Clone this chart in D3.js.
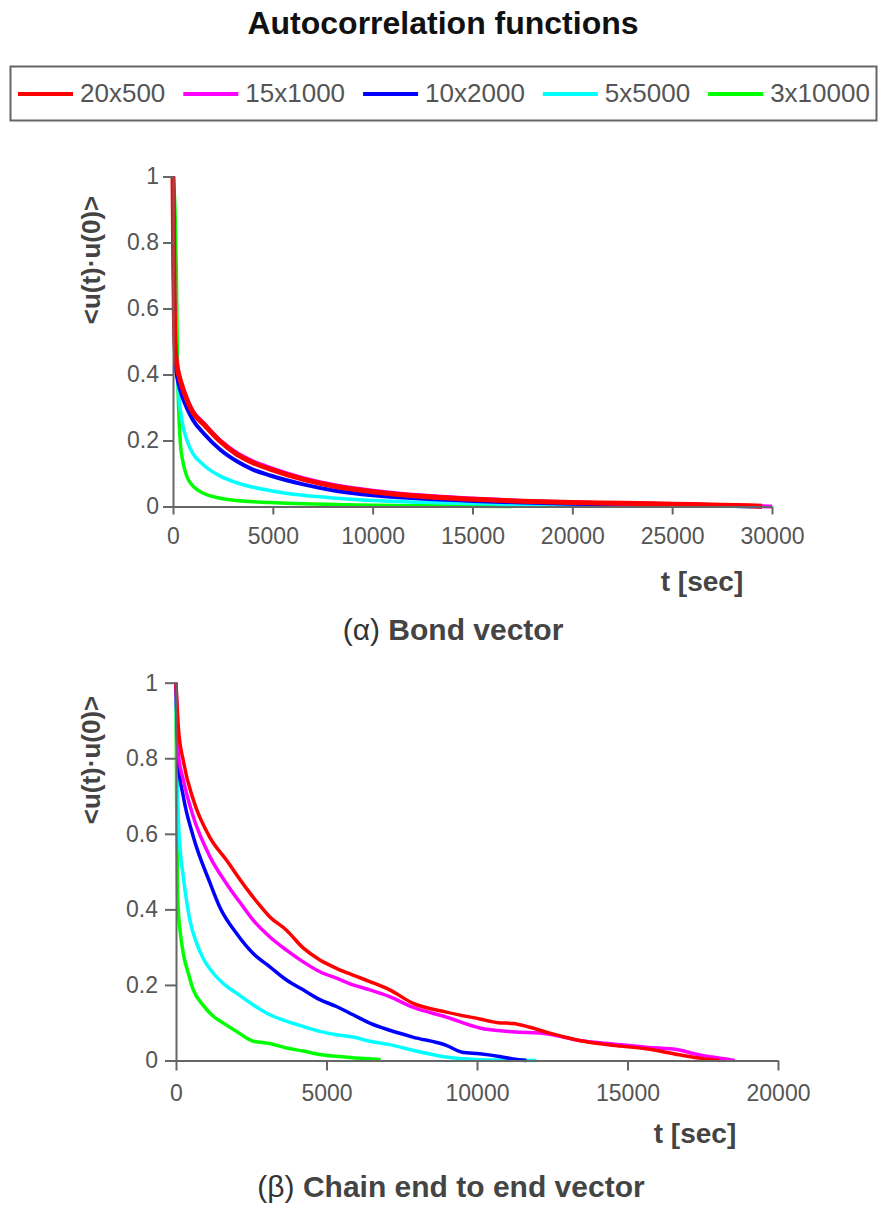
<!DOCTYPE html>
<html><head><meta charset="utf-8">
<script src="https://cdn.jsdelivr.net/npm/d3@7"></script>
<style>body{margin:0;background:#fff} svg text{font-family:"Liberation Sans",Arial,sans-serif}</style>
</head><body><svg id="c" width="881" height="1207"></svg>
<script>
// ---- data ----
const seriesNames = ["20x500","15x1000","10x2000","5x5000","3x10000"];
const seriesColors = ["#ff0000","#ff00ff","#0000ff","#00ffff","#00ff00"];
const yTicks = [0,0.2,0.4,0.6,0.8,1];
const xTicksBond = [0,5000,10000,15000,20000,25000,30000];
const xTicksChain = [0,5000,10000,15000,20000];

// (α) Bond vector  [t, value]
const bond_20x500 = [[0,1],[30,0.8],[60,0.62],[100,0.5],[150,0.45],[250,0.41],[400,0.375],[700,0.323],[1000,0.285],[1530,0.25],[2370,0.197],[3200,0.158],[4000,0.133],[4870,0.113],[6530,0.082],[8200,0.06],[10000,0.045],[12370,0.031],[15000,0.022],[17500,0.016],[20000,0.012],[22500,0.01],[25000,0.007],[27500,0.004],[29500,0.001]];
const bond_15x1000 = [[0,1],[30,0.8],[60,0.62],[100,0.5],[150,0.45],[250,0.41],[400,0.376],[700,0.325],[1000,0.288],[1530,0.253],[2370,0.2],[3200,0.162],[4000,0.137],[4870,0.117],[6530,0.086],[8200,0.064],[10000,0.048],[12370,0.034],[15000,0.024],[17500,0.017],[20000,0.012],[22500,0.009],[25000,0.007],[27500,0.004],[30000,0]];
const bond_10x2000 = [[0,1],[30,0.78],[60,0.6],[100,0.47],[150,0.42],[250,0.38],[400,0.345],[700,0.298],[1000,0.262],[1530,0.222],[2370,0.172],[3200,0.137],[4000,0.112],[4870,0.094],[6530,0.067],[8200,0.047],[10000,0.034],[12370,0.024],[15000,0.017],[17500,0.012],[20000,0.008],[22500,0.006],[25000,0.004],[27500,0.002],[29500,0]];
const bond_5x5000 = [[0,1],[50,0.75],[100,0.6],[200,0.42],[300,0.33],[450,0.26],[700,0.2],[1000,0.16],[1530,0.126],[2370,0.092],[3200,0.072],[4870,0.048],[6530,0.034],[8200,0.025],[10000,0.018],[12370,0.013],[15000,0.009],[17500,0.006],[20000,0.004],[22500,0.003],[25000,0.002],[27500,0.001],[29000,0]];
const bond_3x10000 = [[0,1],[100,0.9],[170,0.7],[220,0.45],[280,0.3],[370,0.19],[500,0.135],[700,0.09],[1030,0.06],[1530,0.04],[2370,0.025],[3200,0.018],[4870,0.012],[6530,0.008],[8200,0.006],[10000,0.004],[12500,0.002],[15000,0.001],[17000,0]];

// (β) Chain end to end vector  [t, value]
const chain_20x500 = [[0,1],[80,0.88],[250,0.79],[575,0.69],[1130,0.59],[1680,0.53],[2345,0.455],[2790,0.41],[3120,0.38],[3670,0.345],[4225,0.298],[4780,0.266],[5330,0.244],[5880,0.226],[6440,0.209],[7100,0.187],[7860,0.152],[8980,0.128],[10090,0.11],[10700,0.1],[11190,0.098],[11750,0.088],[12300,0.075],[13400,0.053],[14510,0.04],[15620,0.031],[16720,0.015],[17500,0.005],[18050,0]];
const chain_15x1000 = [[0,1],[80,0.81],[245,0.742],[575,0.645],[1130,0.539],[1680,0.468],[2240,0.406],[2570,0.371],[3120,0.327],[3670,0.292],[4225,0.261],[4780,0.235],[5330,0.218],[5880,0.2],[6440,0.187],[7100,0.169],[7865,0.141],[8980,0.115],[10090,0.086],[11190,0.076],[12300,0.071],[13400,0.053],[14510,0.044],[15620,0.035],[16720,0.028],[17200,0.018],[17830,0.009],[18560,0]];
const chain_10x2000 = [[0,1],[80,0.786],[245,0.698],[575,0.592],[1130,0.47],[1460,0.405],[2013,0.336],[2566,0.283],[3119,0.248],[3672,0.213],[4225,0.187],[4778,0.161],[5331,0.143],[5884,0.121],[6437,0.099],[7100,0.08],[7865,0.062],[8980,0.04],[9500,0.022],[10090,0.018],[10800,0.01],[11190,0.004],[11640,0]];
const chain_5x5000 = [[0,1],[40,0.75],[80,0.636],[133,0.565],[243,0.486],[465,0.37],[686,0.31],[907,0.27],[1239,0.231],[1571,0.204],[2013,0.178],[2566,0.147],[3119,0.121],[3672,0.104],[4225,0.09],[4778,0.077],[5331,0.068],[5884,0.062],[6437,0.051],[7100,0.042],[7865,0.027],[8980,0.009],[10090,0.002],[11000,0.001],[11970,0]];
const chain_3x10000 = [[0,1],[20,0.7],[50,0.45],[77,0.397],[133,0.345],[243,0.283],[409,0.231],[575,0.187],[907,0.146],[1239,0.117],[1571,0.099],[2013,0.077],[2566,0.051],[3119,0.045],[3672,0.033],[4225,0.025],[4778,0.016],[5331,0.011],[5884,0.007],[6658,0.003],[6800,0.002]];

const bondSeries = [bond_20x500,bond_15x1000,bond_10x2000,bond_5x5000,bond_3x10000];
const chainSeries = [chain_20x500,chain_15x1000,chain_10x2000,chain_5x5000,chain_3x10000];

// ---- drawing ----
const svg = d3.select("#c");
const AX = "#666", TXT = "#555", LBL = "#444";

svg.append("text").attr("x",443).attr("y",34).attr("text-anchor","middle")
  .attr("font-size",32).attr("font-weight","bold").attr("fill","#111")
  .text("Autocorrelation functions");

// legend
svg.append("rect").attr("x",10.5).attr("y",66.5).attr("width",866).attr("height",54)
  .attr("fill","none").attr("stroke",AX).attr("stroke-width",2);
let lx = 18;
seriesNames.forEach((n,i)=>{
  svg.append("line").attr("x1",lx).attr("x2",lx+55).attr("y1",94).attr("y2",94)
    .attr("stroke",seriesColors[i]).attr("stroke-width",4);
  const t = svg.append("text").attr("x",lx+62).attr("y",102).attr("font-size",26)
    .attr("fill",TXT).text(n);
  lx = lx + 62 + t.node().getComputedTextLength() + 18;
});

function panel(cfg){
  const x = d3.scaleLinear().domain([0,cfg.xMax]).range([cfg.x0,cfg.x1]);
  const y = d3.scaleLinear().domain([0,1]).range([cfg.yb,cfg.yt]);
  const g = svg.append("g");
  const line = d3.line().x(d=>x(d[0])).y(d=>y(d[1])).curve(cfg.curve);
  [4,3,2,1,0].forEach(i=>{
    g.append("path").datum(cfg.series[i]).attr("d",line).attr("fill","none")
      .attr("stroke",seriesColors[i]).attr("stroke-width",cfg.widths[i])
      .attr("stroke-linejoin","round").attr("stroke-linecap","butt");
  });
  const xa = g.append("g").attr("transform",`translate(0,${cfg.yb})`)
    .call(d3.axisBottom(x).tickValues(cfg.xTicks).tickSize(cfg.xTick).tickPadding(cfg.xPad)
      .tickSizeOuter(0).tickFormat(d=>String(d)));
  const ya = g.append("g").attr("transform",`translate(${cfg.x0},0)`)
    .call(d3.axisLeft(y).tickValues(yTicks).tickSize(cfg.yTick).tickPadding(cfg.yPad)
      .tickSizeOuter(0).tickFormat(d=>String(d)));
  [xa,ya].forEach(a=>{
    a.attr("font-family",null).attr("font-size",null);
    a.selectAll("path,line").attr("stroke",AX).attr("stroke-width",2);
    a.selectAll("text").attr("fill",TXT).attr("font-size",23)
      .style("font-family",'"Liberation Sans",Arial,sans-serif');
  });
  g.append("text").attr("transform",`translate(91,${cfg.yLabelY}) rotate(-90)`)
    .attr("text-anchor","middle").attr("dominant-baseline","central")
    .attr("font-size",26).attr("font-weight","bold").attr("fill",LBL)
    .text("<u(t)\u00b7u(0)>");
  g.append("text").attr("x",cfg.tx).attr("y",cfg.ty).attr("text-anchor","middle")
    .attr("font-size",28).attr("font-weight","bold").attr("fill",LBL).text("t [sec]");
  const cap = g.append("text").attr("x",cfg.capX).attr("y",cfg.capY).attr("text-anchor","middle")
    .attr("font-size",30).attr("fill","#333");
  cap.append("tspan").text(cfg.capA + " ");
  cap.append("tspan").attr("font-weight","bold").attr("fill",LBL).text(cfg.capB);
}

panel({series:bondSeries, xMax:30000, x0:173, x1:772, yb:506.5, yt:176.5,
  xTicks:xTicksBond, xTick:8, xPad:13, yTick:10, yPad:4,
  widths:[5,4,4,3.5,3.5], curve:d3.curveMonotoneX,
  yLabelY:260, tx:702, ty:591, capX:453, capY:640, capA:"(\u03b1)", capB:"Bond vector"});

panel({series:chainSeries, xMax:20000, x0:176, x1:778, yb:1060.5, yt:682.7,
  xTicks:xTicksChain, xTick:10, xPad:14, yTick:11, yPad:7,
  widths:[3.5,3.5,3.5,3.5,3.5], curve:d3.curveMonotoneX,
  yLabelY:760, tx:695, ty:1143, capX:451, capY:1197, capA:"(\u03b2)", capB:"Chain end to end vector"});
</script></body></html>
